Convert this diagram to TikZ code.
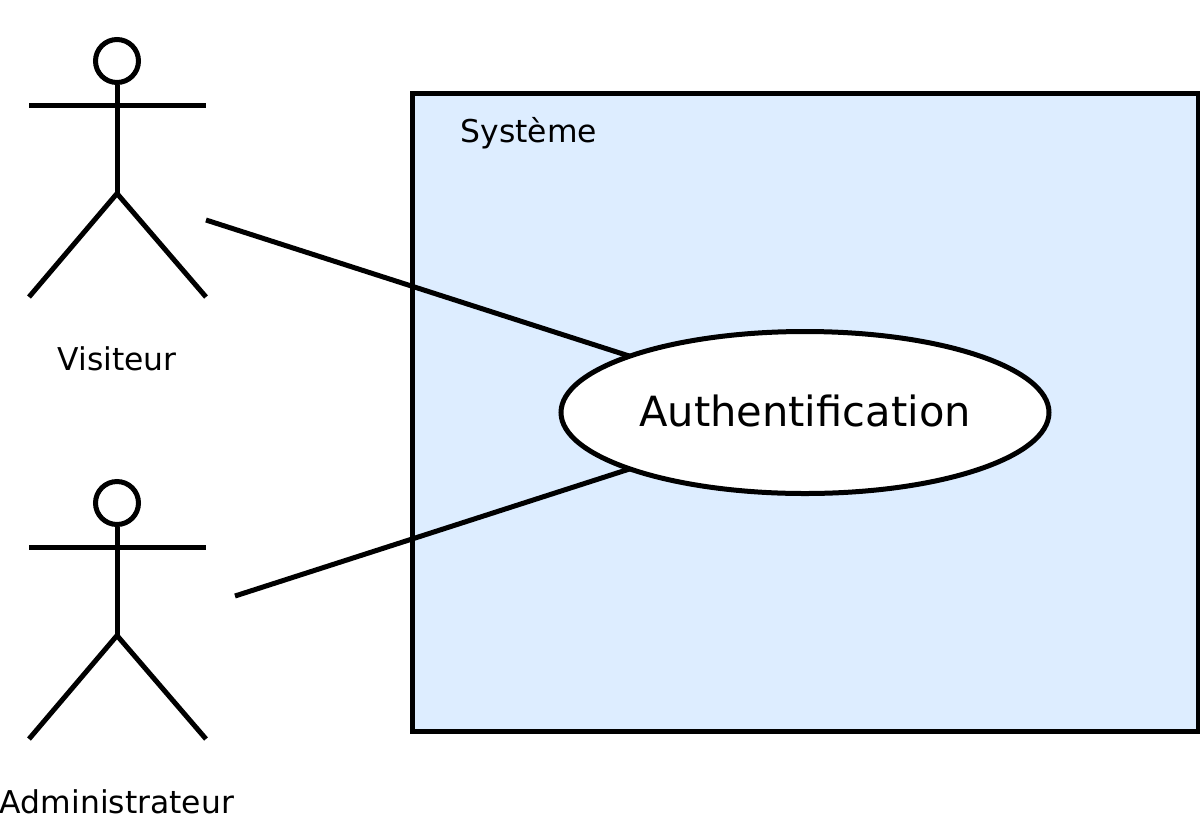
\documentclass[tikz,border=0pt]{standalone}
\usepackage{fontspec}
\setmainfont{DejaVu Sans}
\usetikzlibrary{shapes.geometric}
\definecolor{systemblue}{HTML}{DDEDFF}
\begin{document}
\begin{tikzpicture}[x=0.5pt,y=-0.5pt,line width=2.5pt]
        % Define styles for shapes
        \tikzset{
            systembox/.style={draw, fill=systemblue, minimum width=393pt, minimum height=319pt, inner sep=0pt},
            usecase/.style={draw, fill=white, ellipse, minimum width=244pt, minimum height=81pt, inner sep=0pt, outer sep=0pt, text depth=2pt, font=\fontsize{20.8}{25}\selectfont},
            label/.style={font=\fontsize{15.7}{19}\selectfont, inner sep=0pt}
        }
        \useasboundingbox (0,0) rectangle (1200,826);
        % Draw system and use case
        \node[systembox] (systeme) at (805,412.5) {};
        \node[label] (titre) at (529,133.5) {Système};
        \node[usecase] (auth) at (805,412.5) {Authentification};
        % Draw actors
        \foreach \name/\shift in {visiteur/0, admin/442} {
            \begin{scope}[yshift=-0.5*\shift pt]
                \node[draw, circle, minimum size=21.5pt, inner sep=0pt] (\name head) at (117,61) {};
                \coordinate (\name hip) at (117,193.5);
                \coordinate (\name lhand) at (29,105);
                \coordinate (\name rhand) at (206,105);
                \coordinate (\name lfoot) at (29,297);
                \coordinate (\name rfoot) at (206,297);
                \draw (\name head) -- (\name hip);
                \draw (\name lhand) -- (\name rhand);
                \draw (\name lfoot) -- (\name hip) -- (\name rfoot);
            \end{scope}
        }
        \node[label] (visiteur) at (117,358.5) {Visiteur};
        \node[label] (admin) at (117,802) {Administrateur};
        % Draw links
        \coordinate (visiteurend) at (206,220);
        \coordinate (adminend) at (235,596);
        \draw (visiteurend) -- (auth);
        \draw (adminend) -- (auth);
\end{tikzpicture}
\end{document}
